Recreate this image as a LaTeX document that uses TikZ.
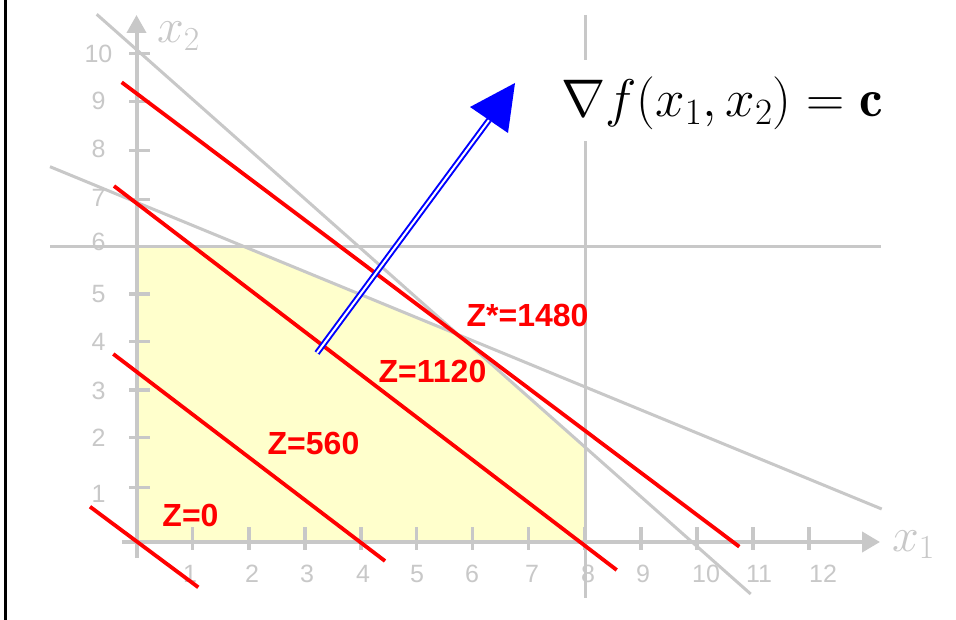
\RequirePackage{fix-cm}
\documentclass[tikz,border=0pt]{standalone}
\usepackage{fontspec}
\newfontfamily\arial{Liberation Sans}
\usetikzlibrary{arrows.meta}
\definecolor{axgray}{RGB}{200,200,200}
\definecolor{feas}{RGB}{255,255,204}
\begin{document}
\begin{tikzpicture}[x=1pt,y=-1pt,
  axis/.style={draw=axgray,line width=4pt},
  tickmark/.style={draw=axgray,line width=3.5pt},
  cons/.style={draw=axgray,line width=3pt},
  zline/.style={draw=red,line width=3.8pt},
  ticklab/.style={text=axgray,font=\arial\fontsize{25}{25}\selectfont,inner sep=0pt,anchor=base},
  zlab/.style={text=red,font=\arial\bfseries\fontsize{32}{32}\selectfont,inner sep=0pt},
  axlab/.style={text=axgray,font=\fontsize{48}{56}\selectfont,inner sep=0pt,anchor=base west}]
\useasboundingbox (0,0) rectangle (956,620);
\fill[white] (0,0) rectangle (956,620);
\draw[black,line width=3pt] (5.5,0) -- (5.5,620);
% feasible region
\fill[feas] (136.5,542) -- (585,542) -- (585,447) -- (458,334.6) -- (244.4,246.7) -- (136.5,246.7) -- cycle;
% constraint lines
\draw[cons] (50,246.7) -- (881,246.7);
\draw[cons] (585,15) -- (585,598);
\draw[cons] (96.7,14.3) -- (750.7,594);
\draw[cons] (50,166.7) -- (881.7,509);
% axes
\draw[axis,-{Triangle[length=18pt,width=19pt]}] (136.5,558) -- (136.5,15);
\draw[axis,-{Triangle[length=18pt,width=20pt]}] (122,542) -- (880,542);
% ticks
\foreach \xx in {192.7,249,305,361,416.7,472.7,528.3,585,641,697,753,809}
  \draw[tickmark] (\xx,527) -- (\xx,550);
\foreach \yy in {487.3,437.7,390,341.7,294,246.7,199.3,150.7,101.7,53.3}
  \draw[tickmark] (129,\yy) -- (150,\yy);
% tick labels
\foreach \lab/\xx in {1/190,2/252,3/307,4/363,5/417,6/472,7/532,8/588,9/643,10/706,11/759,12/823}
  \node[ticklab] (xl\lab) at (\xx,582.5) {\lab};
\foreach \lab/\yy in {1/493.7,2/438,3/390.3,4/342,5/293.7,6/241.4,7/197.5,8/148.7,9/100.5,10/53.3}
  \node[ticklab] (yl\lab) at (98.5,\yy+8.8) {\lab};
% axis labels
\node[axlab] (x2lab) at (157,43) {$x_2$};
\node[axlab] (x1lab) at (892,551) {$x_1$};
% objective lines
\draw[zline] (90,506.7) -- (198.3,587.3);
\draw[zline] (113.3,354) -- (385,561);
\draw[zline] (114,186) -- (616.7,570);
\draw[zline] (121.7,82.3) -- (739.3,546.7);
% objective labels
\node[zlab] (z0) at (190.5,515) {Z=0};
\node[zlab] (z560) at (313.5,443.5) {Z=560};
\node[zlab] (z1120) at (432.5,371.5) {Z=1120};
\node[zlab] (zstar) at (527.5,315.5) {Z*=1480};
% gradient arrow
\draw[draw=blue,line width=2pt,double=white,double distance=2pt] (317,353) -- (489,120);
\fill[blue] (515,83) -- (470,107) -- (508,133) -- cycle;
% formula
\fill[white] (553,60) rectangle (892,141);
\node[anchor=base west,inner sep=0pt,font=\fontsize{53}{64}\selectfont] (grad) at (561,117) {$\nabla f(x_1,x_2)=\mathbf{c}$};
\end{tikzpicture}
\end{document}
